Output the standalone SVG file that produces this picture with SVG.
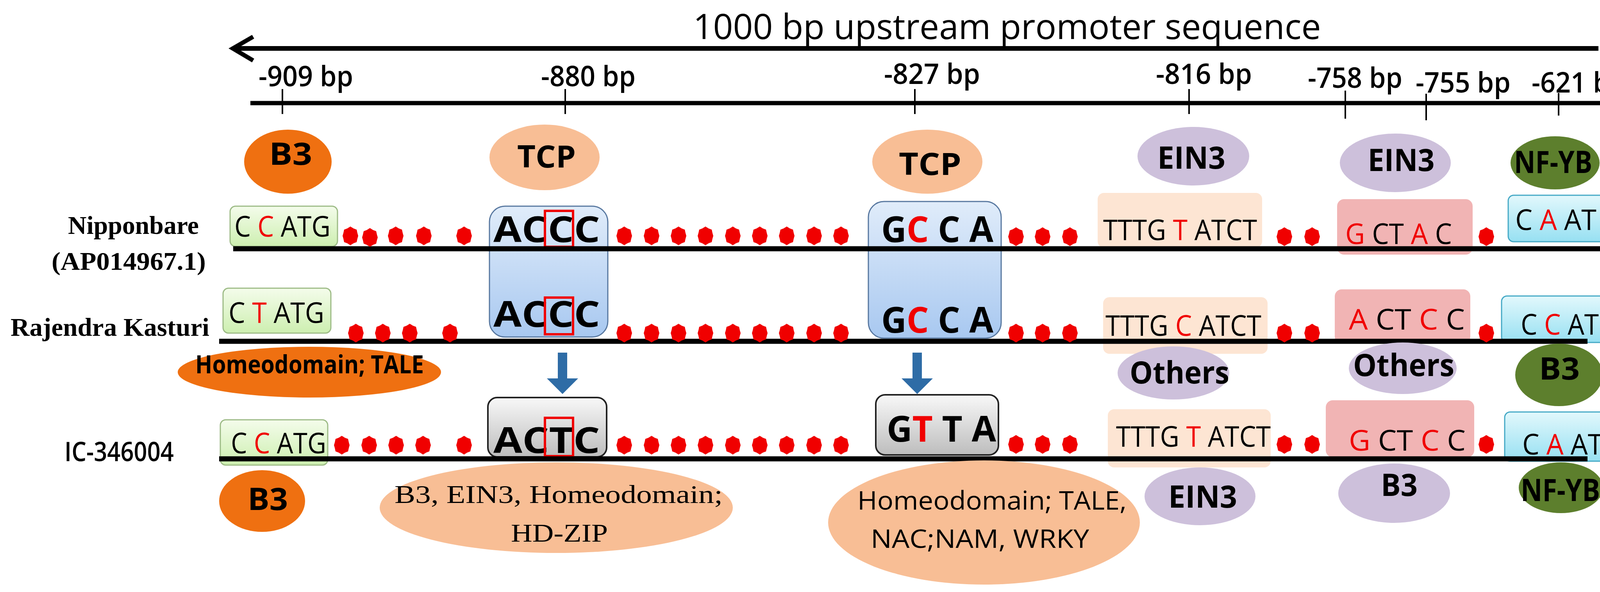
<svg xmlns="http://www.w3.org/2000/svg" xmlns:xlink="http://www.w3.org/1999/xlink" width="4279" height="1516" viewBox="0 0 4279 1516">
<style>
.s{font-family:"Open Sans","DejaVu Sans",sans-serif;fill:#000}
.b{font-weight:bold}
.serif{font-family:"Liberation Serif","Times New Roman",serif;fill:#000}
.r{fill:#F00000}
.seq{font-family:"Open Sans","DejaVu Sans",sans-serif;font-size:74px}
.big{font-family:"Open Sans","DejaVu Sans",sans-serif;font-size:92px;font-weight:bold}
.lbl{font-family:"Open Sans","DejaVu Sans",sans-serif;font-size:78px;font-weight:bold}
.tick{font-family:"Open Sans","DejaVu Sans",sans-serif;font-size:72px;font-weight:600}
.row{stroke:#000;stroke-width:13}
.grn{fill:url(#gGreen);stroke:#9DBB86;stroke-width:3}
.blu{fill:url(#gBlue);stroke:#5878A0;stroke-width:3}
.gry{fill:url(#gGray);stroke:#222;stroke-width:4}
.pch{fill:#FDE5D3}
.pnk{fill:#F1B4B4}
.cyn{fill:url(#gCyan);stroke:#45A9C6;stroke-width:3}
.mut{fill:none;stroke:#F00000;stroke-width:6}
</style>
<defs>
<linearGradient id="gGreen" x1="0" y1="0" x2="0" y2="1"><stop offset="0" stop-color="#F4FCEB"/><stop offset="1" stop-color="#CDEFB0"/></linearGradient>
<linearGradient id="gBlue" x1="0" y1="0" x2="0" y2="1"><stop offset="0" stop-color="#E0ECFA"/><stop offset="1" stop-color="#A8C8F0"/></linearGradient>
<linearGradient id="gGray" x1="0" y1="0" x2="0" y2="1"><stop offset="0" stop-color="#F8F8F8"/><stop offset="1" stop-color="#BDBDBD"/></linearGradient>
<linearGradient id="gCyan" x1="0" y1="0" x2="0" y2="1"><stop offset="0" stop-color="#E2F8FC"/><stop offset="1" stop-color="#97E0F2"/></linearGradient>
<polygon id="dot" fill="#F00000" points="0,-24 8,-19 16,-16 18,-7 20,0 18,7 16,16 8,19 0,24 -8,19 -16,16 -18,7 -20,0 -18,-7 -16,-16 -8,-19"/>
<polygon id="darr" fill="#2E6CA6" points="-12,0 12,0 12,66 40,66 0,106 -40,66 -12,66"/>
</defs>

<!-- header -->
<g id="header">
<text class="s" x="2578" y="100" font-size="90" text-anchor="middle" textLength="1607" lengthAdjust="spacingAndGlyphs">1000 bp upstream promoter sequence</text>
<line x1="595" y1="124" x2="4092" y2="124" stroke="#000" stroke-width="12"/>
<polyline points="648,94 596,124 648,155" fill="none" stroke="#000" stroke-width="11"/>
<text x="4133" y="150" font-family="Open Sans,DejaVu Sans,sans-serif" font-size="84" font-weight="bold" fill="#F00000">+1</text>
</g>

<g id="ruler">
<line x1="641" y1="264" x2="4153" y2="264" stroke="#000" stroke-width="11"/>
<g stroke="#000" stroke-width="4">
<line x1="723" y1="228" x2="723" y2="292"/><line x1="1447" y1="228" x2="1447" y2="292"/>
<line x1="2342" y1="228" x2="2342" y2="292"/><line x1="3044" y1="228" x2="3044" y2="292"/>
<line x1="3444" y1="232" x2="3444" y2="304"/><line x1="3651" y1="240" x2="3651" y2="308"/>
<line x1="3990" y1="238" x2="3990" y2="296"/>
</g>
<text class="tick" x="662" y="221" textLength="242" lengthAdjust="spacingAndGlyphs">-909 bp</text>
<text class="tick" x="1385" y="221" textLength="242" lengthAdjust="spacingAndGlyphs">-880 bp</text>
<text class="tick" x="2263" y="215" textLength="246" lengthAdjust="spacingAndGlyphs">-827 bp</text>
<text class="tick" x="2959" y="215" textLength="246" lengthAdjust="spacingAndGlyphs">-816 bp</text>
<text class="tick" x="3348" y="225" textLength="242" lengthAdjust="spacingAndGlyphs">-758 bp</text>
<text class="tick" x="3624" y="237" textLength="243" lengthAdjust="spacingAndGlyphs">-755 bp</text>
<text class="tick" x="3921" y="237" textLength="242" lengthAdjust="spacingAndGlyphs">-621 bp</text>
</g>

<!-- top TF ellipses -->
<g id="tf-b3-top"><ellipse cx="737" cy="414" rx="112" ry="82" fill="#EF7011"/><text class="lbl" x="744" y="422" text-anchor="middle" textLength="110" lengthAdjust="spacingAndGlyphs">B3</text></g>
<g id="tf-tcp1"><ellipse cx="1394" cy="403" rx="141" ry="84" fill="#F8BE95"/><text class="lbl" x="1399" y="429" text-anchor="middle" textLength="150" lengthAdjust="spacingAndGlyphs">TCP</text></g>
<g id="tf-tcp2"><ellipse cx="2374" cy="414" rx="141" ry="82" fill="#F8BE95"/><text class="lbl" x="2381" y="448" text-anchor="middle" textLength="160" lengthAdjust="spacingAndGlyphs">TCP</text></g>
<g id="tf-ein3-1"><ellipse cx="3055" cy="400" rx="143" ry="75" fill="#CDC0DB"/><text class="lbl" x="3050" y="432" text-anchor="middle" textLength="174" lengthAdjust="spacingAndGlyphs">EIN3</text></g>
<g id="tf-ein3-2"><ellipse cx="3572" cy="417" rx="142" ry="75" fill="#CDC0DB"/><text class="lbl" x="3587" y="438" text-anchor="middle" textLength="171" lengthAdjust="spacingAndGlyphs">EIN3</text></g>
<g id="tf-nfyb-top"><ellipse cx="3981" cy="417" rx="114" ry="68" fill="#5D7F2D"/><text class="lbl" x="3976" y="443" text-anchor="middle" textLength="200" lengthAdjust="spacingAndGlyphs">NF-YB</text></g>

<!-- row labels -->
<g id="label-nipponbare">
<text class="serif b" x="174" y="599" font-size="66" textLength="335" lengthAdjust="spacingAndGlyphs">Nipponbare</text>
<text class="serif b" x="132" y="691" font-size="66" textLength="395" lengthAdjust="spacingAndGlyphs">(AP014967.1)</text>
</g>
<g id="label-rajendra"><text class="serif b" x="27" y="860" font-size="66" textLength="509" lengthAdjust="spacingAndGlyphs">Rajendra Kasturi</text></g>
<g id="label-ic"><text class="s" x="165" y="1181" font-size="68" font-weight="600" textLength="280" lengthAdjust="spacingAndGlyphs">IC-346004</text></g>

<!-- boxes -->
<g id="box-b3-1"><rect class="grn" x="589" y="528" width="275" height="103" rx="14"/><text class="seq" x="600" y="606" textLength="246" lengthAdjust="spacingAndGlyphs">C <tspan class="r">C</tspan> ATG</text></g>
<g id="box-b3-2"><rect class="grn" x="571" y="738" width="276" height="115" rx="14"/><text class="seq" x="585" y="827" textLength="245" lengthAdjust="spacingAndGlyphs">C <tspan class="r">T</tspan> ATG</text></g>
<g id="box-b3-3"><rect class="grn" x="564" y="1075" width="275" height="116" rx="14"/><text class="seq" x="591" y="1161" textLength="244" lengthAdjust="spacingAndGlyphs">C <tspan class="r">C</tspan> ATG</text></g>

<g id="box-tcp1"><rect class="blu" x="1253" y="528" width="303" height="335" rx="40"/>
<text class="big" x="1263" y="620" textLength="273" lengthAdjust="spacingAndGlyphs">ACCC</text><rect class="mut" x="1395" y="540" width="72" height="92"/>
<text class="big" x="1263" y="837" textLength="273" lengthAdjust="spacingAndGlyphs">ACCC</text><rect class="mut" x="1395" y="762" width="72" height="94"/></g>
<g id="box-tcp2"><rect class="blu" x="2223" y="516" width="340" height="350" rx="40"/>
<text class="big" x="2256" y="620" textLength="287" lengthAdjust="spacingAndGlyphs">G<tspan class="r">C</tspan> C A</text>
<text class="big" x="2256" y="852" textLength="287" lengthAdjust="spacingAndGlyphs">G<tspan class="r">C</tspan> C A</text></g>
<g id="box-actc"><rect class="gry" x="1249" y="1018" width="304" height="152" rx="24"/>
<text class="big" x="1263" y="1160" textLength="273" lengthAdjust="spacingAndGlyphs">ACTC</text><rect class="mut" x="1395" y="1070" width="72" height="98"/></g>
<g id="box-gtta"><rect class="gry" x="2242" y="1011" width="314" height="154" rx="24"/>
<text class="big" x="2270" y="1131" textLength="280" lengthAdjust="spacingAndGlyphs">G<tspan class="r">T</tspan> T A</text></g>

<g id="box-ein3-1"><rect class="pch" x="2810" y="494" width="421" height="140" rx="16"/><text class="seq" x="2824" y="615" textLength="394" lengthAdjust="spacingAndGlyphs">TTTG <tspan class="r">T</tspan> ATCT</text></g>
<g id="box-ein3-2"><rect class="pch" x="2824" y="761" width="421" height="145" rx="16"/><text class="seq" x="2830" y="860" textLength="399" lengthAdjust="spacingAndGlyphs">TTTG <tspan class="r">C</tspan> ATCT</text></g>
<g id="box-ein3-3"><rect class="pch" x="2836" y="1048" width="417" height="149" rx="16"/><text class="seq" x="2857" y="1144" textLength="396" lengthAdjust="spacingAndGlyphs">TTTG <tspan class="r">T</tspan> ATCT</text></g>

<g id="box-pink-1"><rect class="pnk" x="3423" y="510" width="347" height="142" rx="18"/><text class="seq" x="3444" y="625" textLength="273" lengthAdjust="spacingAndGlyphs"><tspan class="r">G</tspan> CT <tspan class="r">A</tspan> C</text></g>
<g id="box-pink-2"><rect class="pnk" x="3417" y="741" width="347" height="139" rx="18"/><text class="seq" x="3453" y="844" textLength="297" lengthAdjust="spacingAndGlyphs"><tspan class="r">A</tspan> CT <tspan class="r">C</tspan> C</text></g>
<g id="box-pink-3"><rect class="pnk" x="3394" y="1025" width="380" height="146" rx="18"/><text class="seq" x="3453" y="1154" textLength="299" lengthAdjust="spacingAndGlyphs"><tspan class="r">G</tspan> CT <tspan class="r">C</tspan> C</text></g>

<g id="box-caat-1"><rect class="cyn" x="3861" y="500" width="273" height="119" rx="14"/><text class="seq" x="3879" y="589" textLength="208" lengthAdjust="spacingAndGlyphs">C <tspan class="r">A</tspan> AT</text></g>
<g id="box-caat-2"><rect class="cyn" x="3844" y="758" width="275" height="119" rx="14"/><text class="seq" x="3893" y="857" textLength="200" lengthAdjust="spacingAndGlyphs">C <tspan class="r">C</tspan> AT</text></g>
<g id="box-caat-3"><rect class="cyn" x="3852" y="1055" width="277" height="126" rx="14"/><text class="seq" x="3897" y="1164" textLength="206" lengthAdjust="spacingAndGlyphs">C <tspan class="r">A</tspan> AT</text></g>

<!-- connectors: sequence lines, dots, arrows -->
<g id="connectors">
<line class="row" x1="597" y1="637" x2="4096" y2="637"/>
<line class="row" x1="561" y1="874" x2="4064" y2="874"/>
<line class="row" x1="561" y1="1175" x2="4064" y2="1175"/>
<g id="dots1">
<use href="#dot" x="897" y="604"/><use href="#dot" x="947" y="608"/><use href="#dot" x="1013" y="604"/><use href="#dot" x="1085" y="604"/><use href="#dot" x="1188" y="604"/>
<use href="#dot" x="1598" y="604"/><use href="#dot" x="1668" y="604"/><use href="#dot" x="1737" y="604"/><use href="#dot" x="1806" y="604"/><use href="#dot" x="1876" y="604"/><use href="#dot" x="1945" y="604"/><use href="#dot" x="2014" y="604"/><use href="#dot" x="2084" y="604"/><use href="#dot" x="2153" y="604"/>
<use href="#dot" x="2601" y="606"/><use href="#dot" x="2669" y="606"/><use href="#dot" x="2739" y="606"/><use href="#dot" x="3288" y="606"/><use href="#dot" x="3359" y="606"/><use href="#dot" x="3805" y="606"/>
</g>
<g id="dots2">
<use href="#dot" x="911" y="853"/><use href="#dot" x="980" y="853"/><use href="#dot" x="1049" y="853"/><use href="#dot" x="1152" y="853"/>
<use href="#dot" x="1598" y="853"/><use href="#dot" x="1668" y="853"/><use href="#dot" x="1737" y="853"/><use href="#dot" x="1806" y="853"/><use href="#dot" x="1876" y="853"/><use href="#dot" x="1945" y="853"/><use href="#dot" x="2014" y="853"/><use href="#dot" x="2084" y="853"/><use href="#dot" x="2153" y="853"/>
<use href="#dot" x="2601" y="853"/><use href="#dot" x="2669" y="853"/><use href="#dot" x="2739" y="853"/><use href="#dot" x="3288" y="853"/><use href="#dot" x="3359" y="853"/><use href="#dot" x="3805" y="853"/>
</g>
<g id="dots3">
<use href="#dot" x="875" y="1140"/><use href="#dot" x="945" y="1140"/><use href="#dot" x="1014" y="1140"/><use href="#dot" x="1083" y="1140"/><use href="#dot" x="1188" y="1140"/>
<use href="#dot" x="1598" y="1140"/><use href="#dot" x="1668" y="1140"/><use href="#dot" x="1737" y="1140"/><use href="#dot" x="1806" y="1140"/><use href="#dot" x="1876" y="1140"/><use href="#dot" x="1945" y="1140"/><use href="#dot" x="2014" y="1140"/><use href="#dot" x="2084" y="1140"/><use href="#dot" x="2153" y="1140"/>
<use href="#dot" x="2601" y="1138"/><use href="#dot" x="2669" y="1138"/><use href="#dot" x="2739" y="1138"/><use href="#dot" x="3288" y="1138"/><use href="#dot" x="3359" y="1138"/><use href="#dot" x="3805" y="1138"/>
</g>
<use href="#darr" x="1440" y="903"/>
<use href="#darr" x="2348" y="903"/>
</g>

<!-- lower TF ellipses -->
<g id="tf-homeo-tale"><ellipse cx="792" cy="953" rx="337" ry="65" fill="#EF7011"/><text class="s b" x="500" y="956" font-size="64" textLength="585" lengthAdjust="spacingAndGlyphs">Homeodomain; TALE</text></g>
<g id="tf-others-1"><ellipse cx="3004" cy="955" rx="143" ry="68" fill="#CDC0DB"/><text class="lbl" x="2892" y="982" textLength="255" lengthAdjust="spacingAndGlyphs">Others</text></g>
<g id="tf-others-2"><ellipse cx="3591" cy="943" rx="138" ry="66" fill="#CDC0DB"/><text class="lbl" x="3464" y="963" textLength="259" lengthAdjust="spacingAndGlyphs">Others</text></g>
<g id="tf-b3-green"><ellipse cx="3991" cy="960" rx="112" ry="80" fill="#5D7F2D"/><text class="lbl" x="3940" y="972" textLength="104" lengthAdjust="spacingAndGlyphs">B3</text></g>

<g id="tf-b3-bottom"><ellipse cx="671" cy="1283" rx="110" ry="79" fill="#EF7011"/><text class="lbl" x="634" y="1306" textLength="103" lengthAdjust="spacingAndGlyphs">B3</text></g>
<g id="tf-multi-1"><ellipse cx="1424" cy="1300" rx="452" ry="116" fill="#F8BE95"/>
<text class="serif" x="1010" y="1288" font-size="66" textLength="840" lengthAdjust="spacingAndGlyphs">B3, EIN3, Homeodomain;</text>
<text class="serif" x="1308" y="1387" font-size="66" textLength="248" lengthAdjust="spacingAndGlyphs">HD-ZIP</text></g>
<g id="tf-multi-2"><ellipse cx="2519" cy="1338" rx="399" ry="159" fill="#F8BE95"/>
<text class="s" x="2195" y="1305" font-size="66" textLength="689" lengthAdjust="spacingAndGlyphs">Homeodomain;  TALE,</text>
<text class="s" x="2229" y="1403" font-size="66" textLength="559" lengthAdjust="spacingAndGlyphs">NAC;NAM,  WRKY</text></g>
<g id="tf-ein3-bottom"><ellipse cx="3072" cy="1271" rx="142" ry="74" fill="#CDC0DB"/><text class="lbl" x="2991" y="1300" textLength="176" lengthAdjust="spacingAndGlyphs">EIN3</text></g>
<g id="tf-b3-lav"><ellipse cx="3569" cy="1263" rx="143" ry="76" fill="#CDC0DB"/><text class="lbl" x="3535" y="1270" textLength="94" lengthAdjust="spacingAndGlyphs">B3</text></g>
<g id="tf-nfyb-bottom"><ellipse cx="3996" cy="1249" rx="108" ry="65" fill="#5D7F2D"/><text class="lbl" x="3893" y="1283" textLength="203" lengthAdjust="spacingAndGlyphs">NF-YB</text></g>
</svg>
